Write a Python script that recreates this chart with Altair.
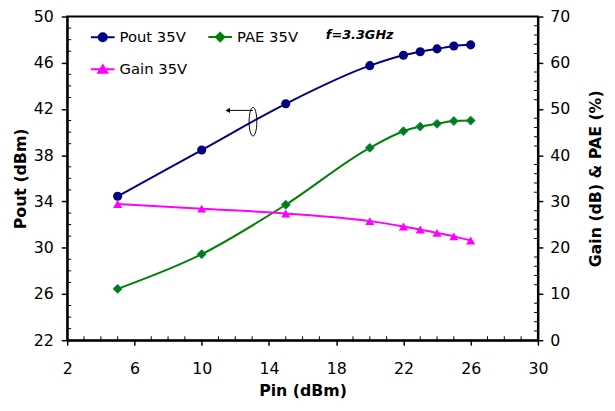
import altair as alt
import pandas as pd

# ---- data ----
pin = [5, 10, 15, 20, 22, 23, 24, 25, 26]
pout = [34.45, 38.45, 42.45, 45.75, 46.65, 46.95, 47.2, 47.45, 47.55]
pae = [11.1, 18.6, 29.3, 41.6, 45.2, 46.2, 46.8, 47.4, 47.5]
gain = [29.45, 28.45, 27.4, 25.75, 24.6, 23.95, 23.2, 22.45, 21.55]

series_names = ["Pout 35V", "PAE 35V", "Gain 35V"]
series_colors = ["#000080", "#008000", "#FF00FF"]

x_ticks = [2, 6, 10, 14, 18, 22, 26, 30]
left_ticks = [22, 26, 30, 34, 38, 42, 46, 50]
right_ticks = [0, 10, 20, 30, 40, 50, 60, 70]
x_minor = [v for v in range(2, 31) if v not in x_ticks]
left_minor = [v for v in range(22, 51) if v not in left_ticks]
right_minor = [v for v in range(0, 71, 2) if v not in right_ticks]

# annotation (data coordinates)
note_text = ["f=3.3GHz"]
note_x = [19.4]
note_y = [48.4]
arrow_x = [11.55]
arrow_x2 = [13.05]
arrow_y = [41.88]
ellipse_x = [13.05]
ellipse_y = [40.9]

W, H = 477, 328
FONT = "DejaVu Sans"

df = pd.DataFrame({"pin": pin, "pout": pout, "pae": pae, "gain": gain})

xs = alt.Scale(domain=[2, 30], nice=False, zero=False)
ls = alt.Scale(domain=[22, 50], nice=False, zero=False)
rs = alt.Scale(domain=[0, 70], nice=False, zero=False)

x_axis = alt.Axis(values=x_ticks, title="Pin (dBm)", tickSize=5, labelPadding=16,
                  titlePadding=6, labelFlush=False)
left_axis = alt.Axis(values=left_ticks, title="Pout (dBm)", orient="left", tickSize=6,
                     labelPadding=8, titlePadding=5, labelFlush=False)
right_axis = alt.Axis(values=right_ticks, title="Gain (dB) & PAE (%)", orient="right",
                      tickSize=5, labelPadding=7, titlePadding=34, titleAngle=270,
                      labelFlush=False)

X = lambda f: alt.X(f, scale=xs, axis=x_axis)
YL = lambda f: alt.Y(f, scale=ls, axis=left_axis)
YR = lambda f: alt.Y(f, scale=rs, axis=right_axis)

base = alt.Chart(df)

pout_line = base.mark_line(color=series_colors[0], strokeWidth=2, interpolate="monotone").encode(
    x=X("pin:Q"), y=YL("pout:Q"))
pout_pts = base.mark_point(shape="circle", filled=True, size=85, opacity=1,
                           color=series_colors[0]).encode(x=X("pin:Q"), y=YL("pout:Q"))

x_minor_rules = alt.Chart(pd.DataFrame({"t": x_minor})).mark_rule(
    color="black", strokeWidth=1).encode(x=X("t:Q"), y=alt.value(H - 4), y2=alt.value(H))
l_minor_rules = alt.Chart(pd.DataFrame({"t": left_minor})).mark_rule(
    color="black", strokeWidth=1).encode(y=YL("t:Q"), x=alt.value(0), x2=alt.value(4))

ellipse = alt.Chart(pd.DataFrame({"x": ellipse_x, "y": ellipse_y})).mark_point(
    shape="M0,-1A0.27,1,0,1,1,0,1A0.27,1,0,1,1,0,-1Z", size=841, filled=False,
    color="black", strokeWidth=1, opacity=1).encode(x=X("x:Q"), y=YL("y:Q"))
arr_df = pd.DataFrame({"x": arrow_x, "x2": arrow_x2, "y": arrow_y})
arrow = alt.Chart(arr_df).mark_rule(color="black", strokeWidth=1).encode(
    x=X("x:Q"), x2="x2:Q", y=YL("y:Q"))
head = alt.Chart(arr_df).mark_point(shape="triangle-left", filled=True, size=28,
                                    color="black", opacity=1).encode(x=X("x:Q"), y=YL("y:Q"))
note = alt.Chart(pd.DataFrame({"x": note_x, "y": note_y, "t": note_text})).mark_text(
    font=FONT, fontSize=13, fontWeight="bold", fontStyle="italic", color="black").encode(
    x=X("x:Q"), y=YL("y:Q"), text="t:N")

left = alt.layer(pout_line, pout_pts, x_minor_rules, l_minor_rules, ellipse, arrow, head, note)

pae_line = base.mark_line(color=series_colors[1], strokeWidth=2, interpolate="monotone").encode(
    x=X("pin:Q"), y=YR("pae:Q"))
pae_pts = base.mark_point(shape="diamond", filled=True, size=80, opacity=1,
                          fill=series_colors[1], stroke="#008080", strokeWidth=1).encode(
    x=X("pin:Q"), y=YR("pae:Q"))
gain_line = base.mark_line(color=series_colors[2], strokeWidth=2, interpolate="monotone").encode(
    x=X("pin:Q"), y=YR("gain:Q"))
gain_pts = base.mark_point(shape="triangle-up", filled=True, size=85, opacity=1,
                           color=series_colors[2]).encode(x=X("pin:Q"), y=YR("gain:Q"))
r_minor_rules = alt.Chart(pd.DataFrame({"t": right_minor})).mark_rule(
    color="black", strokeWidth=1).encode(y=YR("t:Q"), x=alt.value(W - 4), x2=alt.value(W))

# legend-only layer (no rows drawn)
leg_paths = [
    "M-1,0L1,0M-0.34,0A0.34,0.34,0,1,0,0.34,0A0.34,0.34,0,1,0,-0.34,0Z",
    "M-1,0L1,0M0,-0.36L0.36,0L0,0.36L-0.36,0Z",
    "M-1,0L1,0M0,-0.34L0.38,0.28L-0.38,0.28Z",
]
leg_df = pd.DataFrame({"series": series_names, "pin": [0, 0, 0], "v": [-10, -10, -10]})
leg_props = dict(title=None, orient="none", legendX=23, legendY=7.5, direction="horizontal",
                 columns=2, columnPadding=17, rowPadding=11, symbolSize=576,
                 symbolStrokeWidth=2, labelOffset=4, labelFont=FONT, labelFontSize=15,
                 labelColor="black", padding=0, symbolOpacity=1)
legend_layer = alt.Chart(leg_df).transform_filter("datum.pin > 0").mark_point(filled=True).encode(
    x=X("pin:Q"), y=YR("v:Q"),
    fill=alt.Fill("series:N", scale=alt.Scale(domain=series_names, range=series_colors),
                  legend=alt.Legend(**leg_props)),
    stroke=alt.Stroke("series:N", scale=alt.Scale(domain=series_names, range=series_colors),
                      legend=alt.Legend(**leg_props)),
    shape=alt.Shape("series:N", scale=alt.Scale(domain=series_names, range=leg_paths),
                    legend=alt.Legend(**leg_props)),
)

right = alt.layer(pae_line, gain_line, pae_pts, gain_pts, r_minor_rules, legend_layer)

chart = alt.layer(left, right).resolve_scale(y="independent").properties(
    width=W, height=H,
    background="white",
    autosize=alt.AutoSizeParams(type="none"),
    padding={"left": 60, "top": 6, "right": 70, "bottom": 62},
).configure_view(stroke="black", strokeWidth=2).configure_axis(
    domainColor="black", domainWidth=2, tickColor="black", tickWidth=1.5,
    labelFont=FONT, labelFontSize=16, labelColor="black",
    titleFont=FONT, titleFontSize=16, titleFontWeight="bold", titleColor="black",
    grid=False,
)

chart.save("out.html", embed_options={"renderer": "svg", "actions": False})
